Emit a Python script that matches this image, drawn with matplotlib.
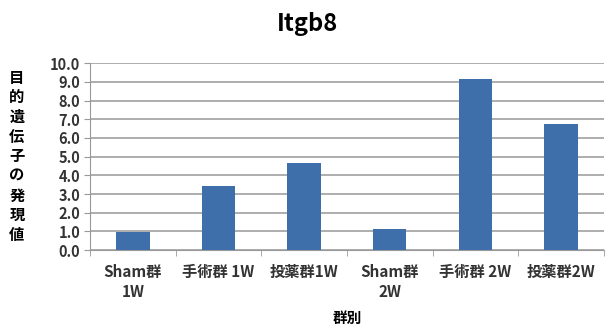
import matplotlib.pyplot as plt
import numpy as np

plt.rcParams['font.family'] = ['Noto Sans CJK JP', 'DejaVu Sans']

groups = ['Sham群\n1W', '手術群 1W', '投薬群1W', 'Sham群\n2W', '手術群 2W', '投薬群2W']
values = [0.98, 3.42, 4.68, 1.14, 9.18, 6.75]
yticks = np.arange(0, 10.5, 1.0)

fig = plt.figure(figsize=(6.06, 3.24), dpi=100)
ax = fig.add_axes([0.1485, 0.228, 0.848, 0.577])

x = np.arange(len(groups))
ax.bar(x, values, width=0.39, color='#3f6faa', zorder=3)

ax.set_xlim(-0.5, len(groups) - 0.5)
ax.set_ylim(0, 10)
ax.set_yticks(yticks)
ax.set_yticklabels(['%.1f' % v for v in yticks], fontsize=10.5, fontweight='bold', color='#333333')
ax.set_xticks(x)
ax.set_xticklabels(groups, fontsize=11, fontweight='bold', color='#333333', linespacing=1.3)
ax.set_xticks(np.arange(-0.5, len(groups)), minor=True)
ax.tick_params(axis='x', which='major', length=0, pad=10)
ax.tick_params(axis='x', which='minor', length=4, color='#999999')
ax.tick_params(axis='y', length=4, color='#999999', pad=3)

ax.grid(axis='y', color='#a0a0a0', linewidth=1.2, zorder=0)
for s in ['top', 'right']:
    ax.spines[s].set_visible(False)
ax.spines['left'].set_color('#999999')
ax.spines['bottom'].set_color('#999999')

fig.text(0.507, 0.925, 'Itgb8', fontsize=17, fontweight='bold', ha='center', va='center')
fig.text(0.028, 0.518, '\n'.join('目的遺伝子の発現値'), fontsize=11, fontweight='bold',
         ha='center', va='center', linespacing=1.28)
fig.text(0.573, 0.02, '群別', fontsize=10.5, fontweight='bold', ha='center', va='center')

fig.savefig('out.png', dpi=100)
